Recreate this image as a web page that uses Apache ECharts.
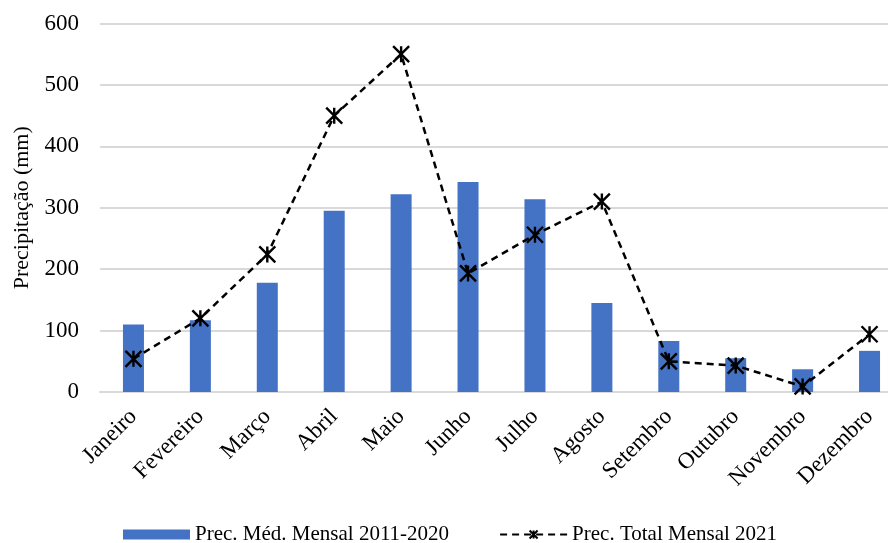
<!DOCTYPE html>
<html>
<head>
<meta charset="utf-8">
<script src="https://cdn.jsdelivr.net/npm/echarts@6/dist/echarts.min.js"></script>
<style>
  html, body { margin: 0; padding: 0; background: #fff; }
  #chart { width: 888px; height: 543px; }
</style>
</head>
<body>
<div id="chart"></div>
<script>
// Monthly precipitation: 2011-2020 average vs 2021 totals (mm)
const months = ['Janeiro', 'Fevereiro', 'Março', 'Abril', 'Maio', 'Junho',
  'Julho', 'Agosto', 'Setembro', 'Outubro', 'Novembro', 'Dezembro'];
const avg2011_2020 = [110, 117, 178, 295, 322, 342, 314, 145, 83, 55, 37, 67];
const total2021 = [54, 120, 224, 450, 550, 193, 256, 310, 50, 43, 9, 94];
const yTicks = { min: 0, max: 600, interval: 100 };

const serif = "'Liberation Serif', 'Times New Roman', serif";
// asterisk-like marker: X with a vertical stroke
const asterisk = 'path://M0,0L10,10M10,0L0,10M5,0L5,10';

const chart = echarts.init(document.getElementById('chart'), null, { renderer: 'canvas' });
chart.setOption({
  animation: false,
  backgroundColor: '#ffffff',
  textStyle: { fontFamily: serif, color: '#000' },
  grid: {
    left: 100, top: 23.5, right: -15, bottom: 151,
    containLabel: false,
    outerBoundsMode: 'none'
  },
  legend: {
    left: 118,
    top: 519,
    itemGap: 50,
    itemWidth: 67,
    itemHeight: 10,
    textStyle: { fontFamily: serif, fontSize: 21, color: '#000' },
    data: [
      { name: 'Prec. Méd. Mensal 2011-2020', icon: 'rect' },
      { name: 'Prec. Total Mensal 2021' }
    ]
  },
  xAxis: {
    type: 'category',
    data: months,
    boundaryGap: true,
    axisLine: { lineStyle: { color: '#d9d9d9', width: 2 } },
    axisTick: { show: false },
    axisLabel: {
      rotate: 45,
      interval: 0,
      margin: 21,
      fontFamily: serif,
      fontSize: 23,
      color: '#000'
    }
  },
  yAxis: {
    type: 'value',
    min: yTicks.min,
    max: yTicks.max,
    interval: yTicks.interval,
    name: 'Precipitação (mm)',
    nameLocation: 'middle',
    nameGap: 67,
    nameTextStyle: { fontFamily: serif, fontSize: 22, color: '#000' },
    axisLine: { show: false },
    axisTick: { show: false },
    axisLabel: { margin: 21, fontFamily: serif, fontSize: 23, color: '#000' },
    splitLine: { lineStyle: { color: '#d9d9d9', width: 2 } }
  },
  series: [
    {
      name: 'Prec. Méd. Mensal 2011-2020',
      type: 'bar',
      data: avg2011_2020,
      barWidth: 21,
      itemStyle: { color: '#4472C4' }
    },
    {
      name: 'Prec. Total Mensal 2021',
      type: 'line',
      data: total2021,
      symbol: asterisk,
      symbolSize: 16,
      showAllSymbol: true,
      lineStyle: { color: '#000', width: 2.5, type: [7, 5] },
      itemStyle: { color: '#000', borderColor: '#000', borderWidth: 2.4 },
      z: 3
    }
  ]
});
</script>
</body>
</html>
